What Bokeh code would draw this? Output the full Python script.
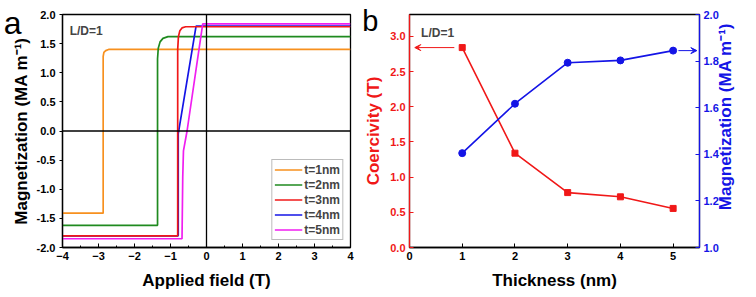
import math
from bokeh.plotting import figure
from bokeh.layouts import row
from bokeh.models import (Range1d, LinearAxis, FixedTicker, Span, Label, Legend, LegendItem,
                          Arrow, VeeHead, NumeralTickFormatter)
from bokeh.embed import file_html
from bokeh.resources import INLINE

# ---------------- Panel a: hysteresis branches ----------------
field_t1 = [-4.0, -2.87, -2.87, -2.85, -2.80, -2.72, -2.62, 4.0]
mag_t1 = [-1.41, -1.41, 1.28, 1.35, 1.38, 1.40, 1.40, 1.40]
field_t2 = [-4.0, -1.36, -1.36, -1.34, -1.29, -1.21, -1.07, 4.0]
mag_t2 = [-1.62, -1.62, 1.24, 1.42, 1.53, 1.59, 1.62, 1.62]
field_t3 = [-4.0, -0.80, -0.80, -0.78, -0.74, -0.68, -0.58, 4.0]
mag_t3 = [-1.80, -1.80, 1.40, 1.62, 1.72, 1.77, 1.79, 1.79]
field_t4 = [-4.0, -0.785, -0.785, -0.29, 4.0]
mag_t4 = [-1.80, -1.80, -0.05, 1.80, 1.80]
field_t5 = [-4.0, -0.68, -0.66, -0.64, -0.54, -0.105, 4.0]
mag_t5 = [-1.85, -1.85, -0.80, -0.34, 0.0, 1.84, 1.84]
series_labels = ["t=1nm", "t=2nm", "t=3nm", "t=4nm", "t=5nm"]
series_colors = ["#F7901E", "#1F8A1F", "#F01818", "#1414E6", "#F01EF0"]
x_ticks_a = [-4, -3, -2, -1, 0, 1, 2, 3, 4]
y_ticks_a = [-2.0, -1.5, -1.0, -0.5, 0.0, 0.5, 1.0, 1.5, 2.0]

# ---------------- Panel b ----------------
thickness = [1, 2, 3, 4, 5]
coercivity = [2.84, 1.34, 0.78, 0.72, 0.555]
magnetization = [1.405, 1.617, 1.793, 1.803, 1.845]
x_ticks_b = [0, 1, 2, 3, 4, 5]
y_ticks_b_left = [0.0, 0.5, 1.0, 1.5, 2.0, 2.5, 3.0]
y_ticks_b_right = [1.0, 1.2, 1.4, 1.6, 1.8, 2.0]

FONT = "Liberation Sans"
RED = "#F01818"
BLUE = "#1414E6"

def style_axis(ax, color="black"):
    ax.major_label_text_font = FONT
    ax.major_label_text_font_style = "bold"
    ax.major_label_text_font_size = "11px"
    ax.major_label_text_color = color
    ax.axis_label_text_font = FONT
    ax.axis_label_text_font_style = "bold"
    ax.axis_label_text_font_size = "17px"
    ax.axis_label_text_color = color
    ax.axis_line_color = color
    ax.axis_line_width = 1.3
    ax.major_tick_line_color = color
    ax.minor_tick_line_color = color
    ax.major_label_standoff = 4

def text_axis(pos, text, size, color="black", style="normal", standoff=0, orientation="horizontal"):
    """An axis without line or ticks whose single tick label carries a text."""
    ax = LinearAxis(y_range_name="place", ticker=FixedTicker(ticks=[pos]),
                    major_label_overrides={pos: text})
    ax.axis_line_color = None
    ax.major_tick_line_color = None
    ax.minor_tick_line_color = None
    ax.major_tick_in = 0
    ax.major_tick_out = 0
    ax.minor_tick_in = 0
    ax.minor_tick_out = 0
    ax.major_label_text_font = FONT
    ax.major_label_text_font_size = size
    ax.major_label_text_font_style = style
    ax.major_label_text_color = color
    ax.major_label_standoff = standoff
    ax.major_label_orientation = orientation
    return ax

# ---------------- figure a ----------------
pa = figure(width=358, height=297, output_backend="svg", toolbar_location=None,
            x_range=Range1d(-4, 4), y_range=Range1d(-2, 2),
            min_border_left=61, min_border_right=8, min_border_top=14, min_border_bottom=50)
pa.extra_y_ranges = {"place": Range1d(0, 1000)}
pa.grid.visible = False
pa.outline_line_color = "black"
pa.outline_line_width = 1.3

pa.xaxis.axis_label = "Applied field (T)"
pa.yaxis.axis_label = "Magnetization (MA m\u207B\u00B9)"
pa.xaxis.ticker = FixedTicker(ticks=x_ticks_a, minor_ticks=[v + 0.5 for v in x_ticks_a[:-1]])
pa.yaxis.ticker = FixedTicker(ticks=y_ticks_a)
pa.yaxis.formatter = NumeralTickFormatter(format="0.0")
for ax in (pa.xaxis[0], pa.yaxis[0]):
    style_axis(ax)
pa.xaxis.major_tick_in = 4
pa.xaxis.major_tick_out = 0
pa.xaxis.minor_tick_in = 2
pa.xaxis.minor_tick_out = 0
pa.yaxis.major_tick_in = 0
pa.yaxis.major_tick_out = 3
pa.yaxis.minor_tick_line_color = None
pa.xaxis.axis_label_standoff = 8
pa.yaxis.axis_label_standoff = 3

# panel letter "a" as an outer left text axis
pa.add_layout(text_axis(965, "a", "32px", standoff=-13), "left")

pa.add_layout(Span(location=0, dimension="width", line_color="black", line_width=1.3))
pa.add_layout(Span(location=0, dimension="height", line_color="black", line_width=1.3))

fields = [field_t1, field_t2, field_t3, field_t4, field_t5]
mags = [mag_t1, mag_t2, mag_t3, mag_t4, mag_t5]
renderers = []
for i in range(5):
    renderers.append(pa.line(fields[i], mags[i], line_color=series_colors[i], line_width=1.7))
# draw order: blue under red
order = [0, 1, 3, 2, 4]
pa.renderers = [r for r in pa.renderers if r not in renderers] + [renderers[i] for i in order]

legend = Legend(items=[LegendItem(label=series_labels[i], renderers=[renderers[i]]) for i in range(5)],
                location="bottom_right")
legend.label_text_font = FONT
legend.label_text_font_style = "bold"
legend.label_text_font_size = "12px"
legend.glyph_width = 28
legend.glyph_height = 15
legend.label_height = 15
legend.label_standoff = 2
legend.spacing = 0
legend.padding = 2
legend.margin = 7
legend.border_line_color = "#777777"
legend.border_line_width = 1
pa.add_layout(legend)

pa.add_layout(Label(x=-3.8, y=1.72, text="L/D=1", text_font=FONT, text_font_style="bold",
                    text_font_size="12px", text_baseline="middle"))

# ---------------- figure b ----------------
pb = figure(width=398, height=297, output_backend="svg", toolbar_location=None,
            x_range=Range1d(0, 5.5), y_range=Range1d(0, 3.31),
            min_border_left=51, min_border_right=57, min_border_top=14, min_border_bottom=50)
pb.grid.visible = False
pb.outline_line_color = "black"
pb.outline_line_width = 1.3
pb.extra_y_ranges = {"mag": Range1d(1.0, 2.0), "place": Range1d(0, 1000)}
right_axis = LinearAxis(y_range_name="mag")
pb.add_layout(right_axis, "right")

pb.xaxis.axis_label = "Thickness (nm)"
pb.yaxis[0].axis_label = "Coercivity (T)"
pb.xaxis.ticker = FixedTicker(ticks=x_ticks_b)
pb.yaxis[0].ticker = FixedTicker(ticks=y_ticks_b_left)
right_axis.ticker = FixedTicker(ticks=y_ticks_b_right)
pb.yaxis[0].formatter = NumeralTickFormatter(format="0.0")
right_axis.formatter = NumeralTickFormatter(format="0.0")
style_axis(pb.xaxis[0])
style_axis(pb.yaxis[0], RED)
style_axis(right_axis, BLUE)
for ax in (pb.xaxis[0], pb.yaxis[0], right_axis):
    ax.major_tick_in = 4
    ax.major_tick_out = 0
    ax.minor_tick_line_color = None
pb.xaxis.axis_label_standoff = 8
pb.yaxis[0].axis_label_standoff = 4

# panel letter "b" and the right-hand title (reading bottom-to-top) as text axes
pb.add_layout(text_axis(974, "b", "29px", standoff=-17), "left")
pb.add_layout(text_axis(160, "Magnetization (MA m\u207B\u00B9)", "17px", color=BLUE, style="bold",
                        standoff=4, orientation=math.pi / 2), "right")

pb.line(thickness, coercivity, line_color=RED, line_width=1.6)
pb.scatter(thickness, coercivity, marker="square", size=6, color=RED)
pb.line(thickness, magnetization, line_color=BLUE, line_width=1.6, y_range_name="mag")
pb.scatter(thickness, magnetization, marker="circle", size=7, color=BLUE, y_range_name="mag")

pb.add_layout(Arrow(x_start=0.85, y_start=coercivity[0], x_end=0.1, y_end=coercivity[0],
                    line_color=RED, line_width=1,
                    end=VeeHead(size=6, fill_color=RED, line_color=RED)))
pb.add_layout(Arrow(x_start=5.1, y_start=magnetization[-1], x_end=5.45, y_end=magnetization[-1],
                    line_color=BLUE, line_width=1, y_range_name="mag",
                    end=VeeHead(size=6, fill_color=BLUE, line_color=BLUE)))

pb.add_layout(Label(x=0.22, y=3.05, text="L/D=1", text_font=FONT, text_font_style="bold",
                    text_font_size="12px", text_baseline="middle"))

layout = row(pa, pb, spacing=0)
open("out.html", "w").write(file_html(layout, INLINE))
